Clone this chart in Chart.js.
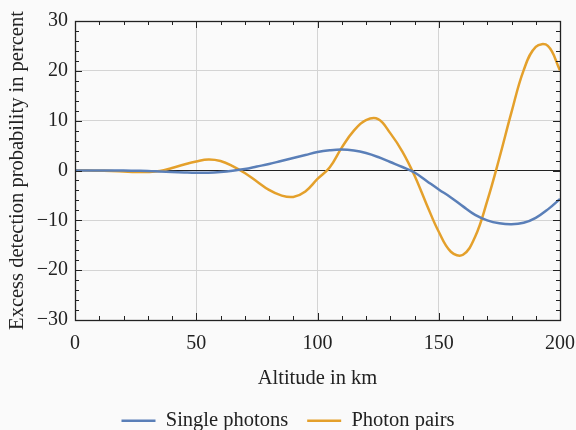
<!DOCTYPE html>
<html>
<head>
<meta charset="utf-8">
<script src="https://cdn.jsdelivr.net/npm/chart.js@4.4.1/dist/chart.umd.min.js"></script>
<style>
  html, body { margin: 0; padding: 0; background: #fafafa; }
  canvas { display: block; }
</style>
</head>
<body>
<canvas id="excessChart" width="576" height="430"></canvas>
<script>
// Data
const altitudeKm = [0, 5, 10, 15, 20, 25, 30, 35, 40, 45, 50, 55, 60, 65, 70, 75, 80, 85, 90, 95,
  100, 105, 110, 115, 120, 125, 130, 135, 140, 145, 150, 155, 160, 165, 170, 175, 180, 185, 190, 195, 200];
const singlePhotons = [0, 0, 0, 0, 0, -0.05, -0.1, -0.2, -0.3, -0.4, -0.47, -0.45, -0.3, -0.05, 0.3, 0.8, 1.3, 1.9, 2.5, 3.1,
  3.7, 4.05, 4.2, 4.0, 3.5, 2.7, 1.7, 0.7, -0.4, -2.1, -3.8, -5.4, -7.2, -8.9, -10.0, -10.6, -10.8, -10.5, -9.5, -7.8, -5.7];
const photonPairs = [0, 0, -0.05, -0.1, -0.2, -0.3, -0.3, -0.1, 0.5, 1.2, 1.8, 2.2, 1.9, 0.9, -0.5, -2.2, -3.9, -5.0, -5.3, -4.2,
  -1.7, 0.6, 4.6, 8.0, 10.1, 10.3, 7.5, 3.8, -1.0, -6.8, -12.3, -16.3, -16.9, -13.3, -6.1, 2.5, 11.7, 20.1, 24.8, 25.0, 20.1];
const xTickStep = 50;
const yTickStep = 10;

const blue = '#5a7fb8';
const orange = '#e4a02b';
const fontFamily = '"Liberation Serif", "Times New Roman", serif';

const ctx = document.getElementById('excessChart').getContext('2d');

// light background like the figure
const backgroundPlugin = {
  id: 'backgroundPlugin',
  beforeDraw(chart) {
    const c = chart.ctx;
    c.save();
    c.fillStyle = '#fafafa';
    c.fillRect(0, 0, chart.width, chart.height);
    c.restore();
  }
};

// inward ticks on all four sides + frame
const frameTicksPlugin = {
  id: 'frameTicksPlugin',
  afterDatasetsDraw(chart) {
    const { ctx, chartArea: { left, right, top, bottom }, scales: { x, y } } = chart;
    ctx.save();
    ctx.strokeStyle = '#222';
    ctx.lineWidth = 1;
    ctx.beginPath();
    for (let v = x.min; v <= x.max; v += 10) {
      const px = Math.round(x.getPixelForValue(v)) + 0.5;
      const len = v % xTickStep === 0 ? 7 : 4;
      ctx.moveTo(px, bottom); ctx.lineTo(px, bottom - len);
      ctx.moveTo(px, top); ctx.lineTo(px, top + len);
    }
    for (let v = y.min; v <= y.max; v += 2) {
      const py = Math.round(y.getPixelForValue(v)) + 0.5;
      const len = v % yTickStep === 0 ? 7 : 4;
      ctx.moveTo(left, py); ctx.lineTo(left + len, py);
      ctx.moveTo(right, py); ctx.lineTo(right - len, py);
    }
    ctx.stroke();
    ctx.lineWidth = 1.3;
    ctx.strokeRect(Math.round(left) + 0.5, Math.round(top) + 0.5, Math.round(right - left), Math.round(bottom - top));
    ctx.restore();
  }
};

new Chart(ctx, {
  type: 'line',
  data: {
    labels: altitudeKm,
    datasets: [{
      label: 'Single photons',
      data: singlePhotons,
      borderColor: blue,
      backgroundColor: blue,
      borderWidth: 2.5,
      pointRadius: 0,
      tension: 0.4
    }, {
      label: 'Photon pairs',
      data: photonPairs,
      borderColor: orange,
      backgroundColor: orange,
      borderWidth: 2.5,
      pointRadius: 0,
      tension: 0.4
    }]
  },
  options: {
    responsive: false,
    animation: false,
    layout: { padding: { top: 21, right: 0, left: 0, bottom: -11 } },
    plugins: {
      tooltip: { enabled: false },
      legend: {
        position: 'bottom',
        labels: {
          usePointStyle: true,
          pointStyle: 'line',
          pointStyleWidth: 34,
          padding: 19,
          color: '#222',
          font: { family: fontFamily, size: 20.5 }
        }
      }
    },
    scales: {
      x: {
        type: 'linear',
        min: 0,
        max: 200,
        ticks: { stepSize: xTickStep, padding: 12, color: '#222', font: { family: fontFamily, size: 20 }, maxRotation: 0 },
        grid: {
          drawTicks: false,
          color: c => (c.tick.value % 50 === 0 && c.tick.value > 0 && c.tick.value < 200) ? '#d4d4d4' : 'rgba(0,0,0,0)'
        },
        border: { display: false },
        title: {
          display: true,
          text: 'Altitude in km',
          color: '#222',
          font: { family: fontFamily, size: 20.5 },
          padding: { top: 0, bottom: 1 }
        },
        afterFit(scale) {
          scale.height = 441 - 320 - scale.chart.legend.height;
          scale.paddingLeft = 0;
          scale.paddingRight = 16;
        }
      },
      y: {
        min: -30,
        max: 30,
        ticks: {
          stepSize: yTickStep,
          padding: 7,
          color: '#222',
          font: { family: fontFamily, size: 20 },
          callback: v => String(v).replace('-', '\u2212')
        },
        grid: {
          drawTicks: false,
          color: c => c.tick.value === 0 ? '#222' : '#d4d4d4'
        },
        border: { display: false },
        title: {
          display: true,
          text: 'Excess detection probability in percent',
          color: '#222',
          font: { family: fontFamily, size: 20.5 },
          padding: { top: 5, bottom: 0 }
        },
        afterFit(scale) {
          scale.width = 75;
        }
      }
    }
  },
  plugins: [backgroundPlugin, frameTicksPlugin]
});
</script>
</body>
</html>
